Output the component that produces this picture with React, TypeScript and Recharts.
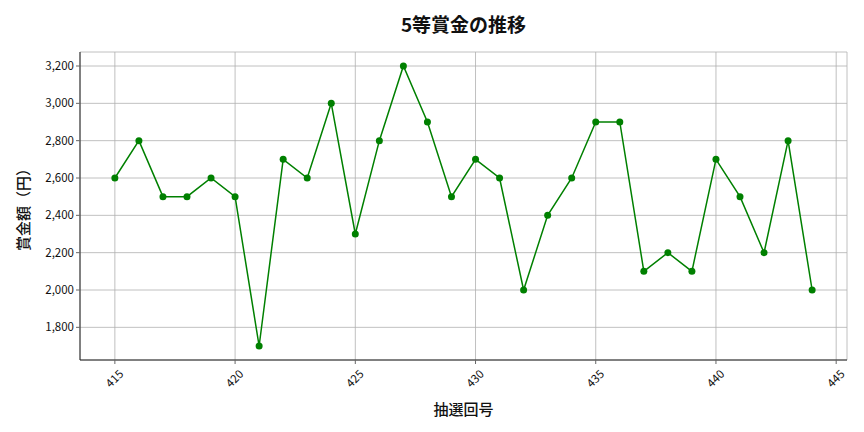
import { LineChart, Line, XAxis, YAxis, CartesianGrid, ReferenceArea } from "recharts";

const drawNumbers = [
  415, 416, 417, 418, 419, 420, 421, 422, 423, 424, 425, 426, 427, 428, 429,
  430, 431, 432, 433, 434, 435, 436, 437, 438, 439, 440, 441, 442, 443, 444,
];
const prizes = [
  2600, 2800, 2500, 2500, 2600, 2500, 1700, 2700, 2600, 3000, 2300, 2800, 3200, 2900, 2500,
  2700, 2600, 2000, 2400, 2600, 2900, 2900, 2100, 2200, 2100, 2700, 2500, 2200, 2800, 2000,
];
const xTicks = [415, 420, 425, 430, 435, 440, 445];
const yTicks = [1800, 2000, 2200, 2400, 2600, 2800, 3000, 3200];

const data = drawNumbers.map((n, i) => ({ n, prize: prizes[i] }));

const FONT = "'Noto Sans CJK JP', 'Noto Sans', sans-serif";

function XTick({ x, y, payload }: any) {
  return (
    <text
      x={x - 1}
      y={y + 12}
      transform={`rotate(-45, ${x - 1}, ${y + 12})`}
      textAnchor="middle"
      dominantBaseline="central"
      fontSize={11.5}
      fill="#111"
      fontFamily={FONT}
    >
      {payload.value}
    </text>
  );
}

export default function App() {
  return (
    <div style={{ position: "absolute", left: 0, top: 0, width: 864, height: 432, background: "#fff", fontFamily: FONT }}>
      <div
        style={{
          position: "absolute",
          left: 80,
          width: 767,
          top: 10,
          textAlign: "center",
          fontSize: 19,
          fontWeight: "bold",
          color: "#111",
          lineHeight: "28px",
        }}
      >
        5等賞金の推移
      </div>
      <LineChart width={864} height={432} data={data} margin={{ top: 52, right: 17, left: 0, bottom: 32 }}>
        <CartesianGrid stroke="#b0b0b0" strokeWidth={0.8} />
        <XAxis
          dataKey="n"
          type="number"
          domain={[413.55, 445.45]}
          ticks={xTicks}
          allowDataOverflow
          height={40}
          tick={<XTick />}
          tickSize={4}
          tickLine={{ stroke: "#666" }}
          axisLine={{ stroke: "#222" }}
          label={{
            content: ({ viewBox }: any) => (
              <text
                x={viewBox.x + viewBox.width / 2}
                y={viewBox.y + 48}
                textAnchor="middle"
                dominantBaseline="central"
                fontSize={15}
                fontWeight={500}
                fill="#111"
                fontFamily={FONT}
              >
                抽選回号
              </text>
            ),
          }}
        />
        <YAxis
          type="number"
          domain={[1625, 3275]}
          ticks={yTicks}
          allowDataOverflow
          width={80}
          tickSize={4}
          tickFormatter={(v: number) => v.toLocaleString("en-US")}
          tick={{ fontSize: 11.5, fill: "#111", fontFamily: FONT }}
          tickLine={{ stroke: "#666" }}
          axisLine={{ stroke: "#222" }}
          label={{
            content: ({ viewBox }: any) => {
              const cx = 22;
              const cy = viewBox.y + viewBox.height / 2;
              return (
                <text
                  x={cx}
                  y={cy}
                  transform={`rotate(-90, ${cx}, ${cy})`}
                  textAnchor="middle"
                  dominantBaseline="central"
                  fontSize={15}
                  fontWeight={500}
                  fill="#111"
                  fontFamily={FONT}
                >
                  賞金額（円）
                </text>
              );
            },
          }}
        />
        <ReferenceArea fill="none" stroke="#222" strokeWidth={1} fillOpacity={0} />
        <Line
          dataKey="prize"
          stroke="#008000"
          strokeWidth={1.5}
          dot={{ r: 3.5, fill: "#008000", stroke: "#008000", strokeWidth: 0 }}
          activeDot={false}
          isAnimationActive={false}
        />
      </LineChart>
    </div>
  );
}
